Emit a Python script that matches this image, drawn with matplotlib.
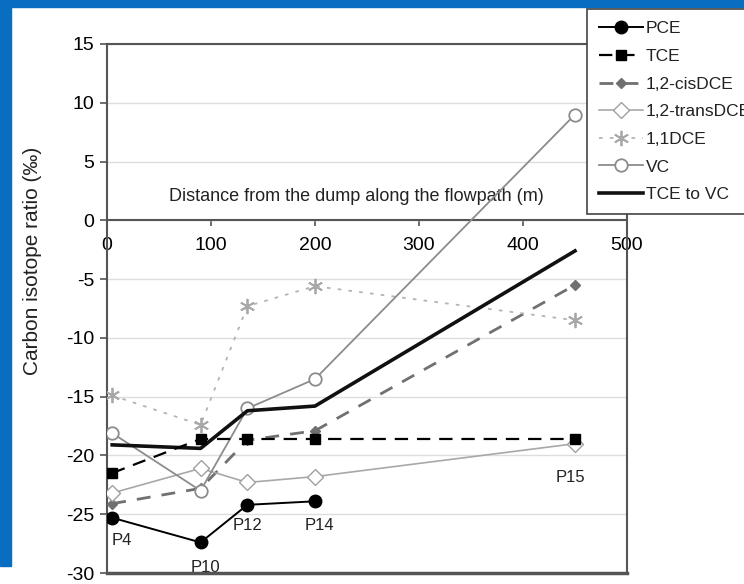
import matplotlib
matplotlib.use("Agg")
import matplotlib.pyplot as plt
from matplotlib.patches import Rectangle

plt.rcParams['font.family'] = ['Liberation Sans', 'DejaVu Sans']
plt.rcParams['axes.unicode_minus'] = False

# Sampling wells along the flowpath and their distance from the dump (m)
wells = ["P4", "P10", "P12", "P14", "P15"]
distance = [5, 90, 135, 200, 450]

# Carbon isotope ratios (per mil) for each compound
pce = [-25.3, -27.4, -24.2, -23.9]            # P15 not measured
tce = [-21.5, -18.6, -18.6, -18.6, -18.6]
cis_dce = [-24.1, -22.8, -18.7, -17.9, -5.5]
trans_dce = [-23.2, -21.1, -22.3, -21.8, -19.0]
dce11 = [-14.9, -17.4, -7.3, -5.6, -8.5]
vc = [-18.1, -23.0, -16.0, -13.5, 9.0]
tce_to_vc = [-19.1, -19.4, -16.2, -15.8, -2.6]

# Label positions for the well names
label_x = [14, 95, 135, 204, 446]
label_y = [-27.2, -29.5, -26.0, -26.0, -21.9]

W, H = 744, 584
fig = plt.figure(figsize=(W / 100, H / 100), dpi=100)
fig.patch.set_facecolor("white")

# blue frame on the top and left edges
blue = "#0A6EC0"
fig.add_artist(Rectangle((0, 1 - 7 / H), 1, 7 / H, transform=fig.transFigure,
                         color=blue, zorder=0))
fig.add_artist(Rectangle((0, 18 / H), 11 / W, 1 - 18 / H, transform=fig.transFigure,
                         color=blue, zorder=0))

left, right = 107 / W, 627 / W
top, bottom = 1 - 44 / H, 1 - 573 / H
ax = fig.add_axes([left, bottom, right - left, top - bottom])
ax.set_xlim(0, 500)
ax.set_ylim(-30, 15)

edge = "#555555"
for s in ax.spines.values():
    s.set_color(edge)
    s.set_linewidth(1.5)
ax.spines['bottom'].set_position(('data', 0))
ax.axhline(-30, color=edge, lw=2.5, zorder=5, clip_on=False)

ax.set_yticks(range(-30, 16, 5))
ax.set_xticks(range(0, 501, 100))
ax.yaxis.grid(True, color="#DDDDDD", lw=1)
ax.set_axisbelow(True)
ax.tick_params(axis='y', direction='out', length=5, width=1.2, color=edge,
               labelsize=14, pad=4)
ax.tick_params(axis='x', direction='out', length=4, width=1.2, color=edge,
               labelsize=14, pad=8)

ax.plot(distance[:4], pce, color="black", lw=1.4, marker="o", ms=9,
        mfc="black", mec="black", label="PCE", zorder=6)
ax.plot(distance, tce, color="black", lw=1.6, ls=(0, (6, 4)), marker="s", ms=7,
        mfc="black", mec="black", label="TCE", zorder=6)
ax.plot(distance, cis_dce, color="#707070", lw=2.0, ls=(0, (5, 4)), marker="D",
        ms=5, mfc="#707070", mec="#707070", label="1,2-cisDCE", zorder=4)
ax.plot(distance, trans_dce, color="#A8A8A8", lw=1.2, marker="D", ms=8,
        mfc="white", mec="#A0A0A0", label="1,2-transDCE", zorder=4)
ax.plot(distance, dce11, color="#B4B4B4", lw=1.3, ls=(0, (2, 4)), marker=(6, 2, 0),
        ms=11, mec="#A8A8A8", mew=1.3, label="1,1DCE", zorder=4)
ax.plot(distance, vc, color="#8C8C8C", lw=1.3, marker="o", ms=9,
        mfc="white", mec="#8C8C8C", mew=1.3, label="VC", zorder=4)
ax.plot(distance, tce_to_vc, color="#111111", lw=2.6, label="TCE to VC", zorder=5)

for name, lx, ly in zip(wells, label_x, label_y):
    ax.text(lx, ly, name, ha="center", va="center", fontsize=12, color="#222222")

ax.text(240, 2.0, "Distance from the dump along the flowpath (m)",
        ha="center", va="center", fontsize=13, color="#222222")

fig.text(33 / W, 1 - 261 / H, "Carbon isotope ratio (‰)", rotation=90,
         ha="center", va="center", fontsize=15, color="#222222")

handles, labels = ax.get_legend_handles_labels()
leg = fig.legend(handles, labels, loc="upper left",
                 bbox_to_anchor=(587 / W, 1 - 9 / H), bbox_transform=fig.transFigure,
                 borderaxespad=0, fontsize=12.5, numpoints=1, handlelength=2.5,
                 handletextpad=0.2, labelspacing=0.72, borderpad=0.7,
                 fancybox=False, framealpha=1, edgecolor="#444444")
leg.get_frame().set_linewidth(1.2)
for t in leg.get_texts():
    t.set_color("#222222")

fig.savefig("out.png", dpi=100)
